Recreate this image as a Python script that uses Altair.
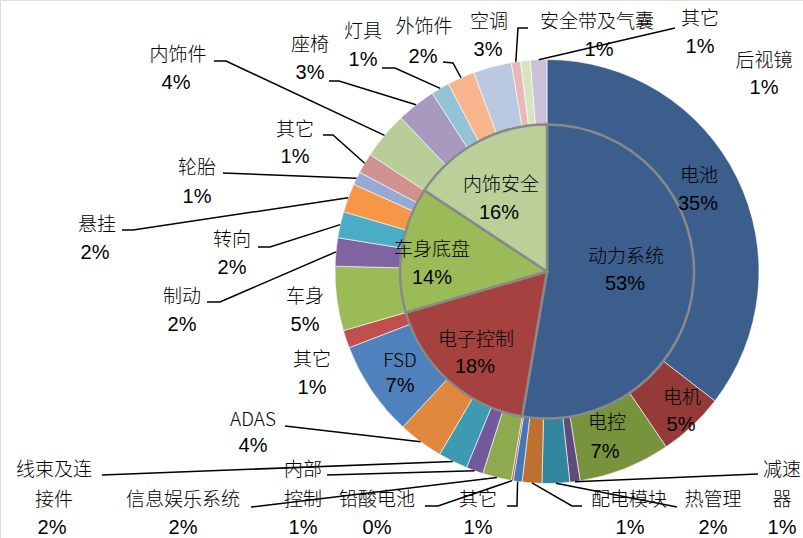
import altair as alt
import pandas as pd
import numpy as np

# ---------------- data ----------------
inner_names = ["动力系统", "电子控制", "车身底盘", "内饰安全"]
inner_values = [52.7, 17.8, 13.8, 15.7]
inner_pct = ["53%", "18%", "14%", "16%"]
inner_colors = ["#3B5E8C", "#A5423F", "#9BBB59", "#BBCF98"]

outer_names = ["电池", "电机", "电控", "减速器", "热管理", "配电模块", "其它", "铅酸电池",
               "信息娱乐系统", "内部控制", "线束及连接件", "ADAS", "FSD", "其它",
               "车身", "制动", "转向", "悬挂", "轮胎", "其它",
               "内饰件", "座椅", "灯具", "外饰件", "空调", "安全带及气囊", "其它", "后视镜"]
outer_values = [35.45, 5.05, 7.0, 0.78, 2.1, 1.5, 0.67, 0.15,
                2.2, 1.3, 2.25, 3.45, 7.25, 1.35,
                4.9, 2.15, 2.0, 2.2, 1.0, 1.55,
                3.6, 3.0, 1.4, 2.1, 2.9, 0.7, 0.75, 1.25]
outer_pct = ["35%", "5%", "7%", "1%", "2%", "1%", "1%", "0%",
             "2%", "1%", "2%", "4%", "7%", "1%",
             "5%", "2%", "2%", "2%", "1%", "1%",
             "4%", "3%", "1%", "2%", "3%", "1%", "1%", "1%"]
outer_colors = ["#3B5E8C", "#943B39", "#77933C", "#5F4A7B", "#31859C", "#BD7131",
                "#4776B4", "#C0504D", "#8DAA4F", "#72599B", "#3E9AB1", "#E0883E",
                "#4F81BD", "#C0504D", "#9BBB59", "#8064A2", "#4BACC6", "#F79646",
                "#95AAD4", "#D09291", "#B8CD98", "#A89ABF", "#94C3D5", "#F9B58D",
                "#BAC8E1", "#E6B9B8", "#D7E4BD", "#CCC1DA"]

# label text lines as displayed
outer_label_lines = [["电池"], ["电机"], ["电控"], ["减速", "器"], ["热管理"], ["配电模块"], ["其它"], ["铅酸电池"],
                     ["信息娱乐系统"], ["内部", "控制"], ["线束及连", "接件"], ["ADAS"], ["FSD"], ["其它"],
                     ["车身"], ["制动"], ["转向"], ["悬挂"], ["轮胎"], ["其它"],
                     ["内饰件"], ["座椅"], ["灯具"], ["外饰件"], ["空调"], ["安全带及气囊"], ["其它"], ["后视镜"]]

# ---------------- layout (positions) ----------------
W, H = 803, 538
CX, CY = 547, 271.5
R_IN, R_OUT = 147, 212
LINE_GAP = 30

inner_name_pos = [(626, 257), (476, 340), (432, 250), (501, 185)]
inner_pct_pos = [(625, 284), (475, 367), (432, 278), (499, 213)]

outer_name_pos = [(699, 176), (682, 398), (607, 423), (782, 470), (713, 500), (629, 500), (478, 500), (377, 500),
                  (183, 500), (303, 470), (54, 470), (253, 420), (400, 361), (312, 360),
                  (305, 297), (182, 297), (232, 240), (97, 225), (197, 168), (295, 130),
                  (178, 55), (310, 45), (363, 32), (424, 27), (489, 22), (597, 22), (700, 19), (764, 61)]
outer_pct_pos = [(698, 204), (681, 425), (605, 452), (782, 528), (713, 528), (630, 528), (478, 528), (377, 528),
                 (183, 528), (303, 528), (52, 528), (253, 446), (400, 386), (312, 388),
                 (305, 325), (182, 325), (232, 268), (95, 253), (197, 197), (295, 157),
                 (176, 83), (310, 73), (363, 60), (423, 57), (488, 50), (599, 50), (700, 47), (764, 88)]

# leader lines: target segment index and label-side points
leaders = [
    (20, [(214, 61), (226, 61)]),
    (21, [(329, 81), (339, 81)]),
    (22, [(382, 68), (395, 68)]),
    (23, [(443, 62), (453, 63)]),
    (25, [(528, 28), (518, 28)]),
    (27, [(675, 28)]),
    (19, [(323, 135), (333, 135)]),
    (18, [(223, 173)]),
    (17, [(122, 230), (133, 230)]),
    (16, [(258, 247), (270, 247)]),
    (15, [(207, 302), (220, 302)]),
    (11, [(285, 426)]),
    (10, [(102, 475)]),
    (9, [(327, 475)]),
    (8, [(251, 507)]),
    (7, [(425, 506), (438, 506)]),
    (6, [(507, 506), (517, 506)]),
    (5, [(582, 506), (572, 506)]),
    (4, [(677, 507)]),
    (3, [(758, 474)]),
]

# ---------------- tables ----------------
inner_df = pd.DataFrame({"name": inner_names, "value": inner_values,
                         "color": inner_colors, "idx": range(len(inner_names))})
outer_df = pd.DataFrame({"name": outer_names, "value": outer_values,
                         "color": outer_colors, "idx": range(len(outer_names))})

tot = float(np.sum(outer_values))
cum = np.cumsum(outer_values)
mid_ang = (cum - np.array(outer_values) / 2) / tot * 2 * np.pi

rows = []
for k, (seg, pts) in enumerate(leaders):
    all_pts = list(pts) + [(CX + R_OUT * np.sin(mid_ang[seg]), CY - R_OUT * np.cos(mid_ang[seg]))]
    for j, (px, py) in enumerate(all_pts):
        rows.append({"lid": k, "o": j, "x": px, "y": py})
lead_df = pd.DataFrame(rows)

trows = []
for lines, (nx, ny), pct, (qx, qy) in zip(outer_label_lines, outer_name_pos, outer_pct, outer_pct_pos):
    for i, ln in enumerate(lines):
        trows.append({"text": ln, "x": nx, "y": ny + i * LINE_GAP, "kind": "name"})
    trows.append({"text": pct, "x": qx, "y": qy, "kind": "pct"})
for nm, (nx, ny), pct, (qx, qy) in zip(inner_names, inner_name_pos, inner_pct, inner_pct_pos):
    trows.append({"text": nm, "x": nx, "y": ny, "kind": "name"})
    trows.append({"text": pct, "x": qx, "y": qy, "kind": "pct"})
text_df = pd.DataFrame(trows)

xs = alt.Scale(domain=[0, W], range=[0, W], nice=False, zero=False)
ys = alt.Scale(domain=[0, H], range=[0, H], nice=False, zero=False)

outer = alt.Chart(outer_df).mark_arc(
    radius=R_OUT, radius2=R_IN, stroke="white", strokeWidth=0.6
).encode(
    theta=alt.Theta("value:Q", stack=True),
    order=alt.Order("idx:Q"),
    color=alt.Color("color:N", scale=None),
    x=alt.value(CX), y=alt.value(CY),
)

inner = alt.Chart(inner_df).mark_arc(
    radius=R_IN, stroke="#898989", strokeWidth=2.5
).encode(
    theta=alt.Theta("value:Q", stack=True),
    order=alt.Order("idx:Q"),
    color=alt.Color("color:N", scale=None),
    x=alt.value(CX), y=alt.value(CY),
)

lines = alt.Chart(lead_df).mark_line(color="black", strokeWidth=1.5).encode(
    x=alt.X("x:Q", scale=xs, axis=None),
    y=alt.Y("y:Q", scale=ys, axis=None),
    detail="lid:N",
    order="o:Q",
)

name_txt = alt.Chart(text_df).transform_filter(alt.datum.kind == "name").mark_text(
    font="Liberation Sans Narrow, Noto Sans CJK SC, sans-serif", fontSize=19, fontWeight=300,
    align="center", baseline="middle", color="black"
).encode(
    x=alt.X("x:Q", scale=xs, axis=None),
    y=alt.Y("y:Q", scale=ys, axis=None),
    text="text:N",
)

pct_txt = alt.Chart(text_df).transform_filter(alt.datum.kind == "pct").mark_text(
    font="Liberation Sans Narrow, Arial Narrow, sans-serif", fontSize=20,
    align="center", baseline="middle", color="black"
).encode(
    x=alt.X("x:Q", scale=xs, axis=None),
    y=alt.Y("y:Q", scale=ys, axis=None),
    text="text:N",
)

chart = alt.layer(outer, inner, lines, name_txt, pct_txt).properties(
    width=W, height=H, autosize=alt.AutoSizeParams(type="none"), padding=0
).configure_view(stroke=None).configure(background="white")

chart.save("out.html", embed_options={"renderer": "svg", "actions": False})
